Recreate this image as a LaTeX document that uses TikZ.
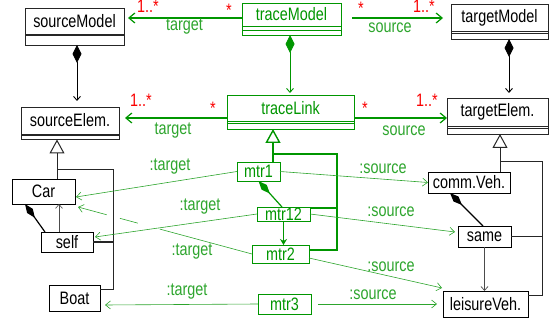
\documentclass[tikz,border=0pt]{standalone}
\usepackage{fontspec}
\setmainfont{Liberation Sans}[FakeStretch=0.8]
\usetikzlibrary{arrows.meta}
\definecolor{tgreen}{RGB}{0,150,0}
\definecolor{lgreen}{RGB}{45,165,45}
\definecolor{mred}{RGB}{250,0,0}
\tikzset{%
  cls/.style={draw=black!85,fill=white,inner sep=0pt,outer sep=0pt},
  tcls/.style={cls,draw=tgreen,text=tgreen,line width=0.8pt},
  obj/.style={draw=black,fill=white,inner sep=0pt,outer sep=0pt},
  tobj/.style={obj,draw=tgreen,text=tgreen,line width=0.7pt},
  role/.style={text=lgreen,inner sep=0pt},
  mult/.style={text=mred,inner sep=0pt,anchor=base},
  assoc/.style={draw=tgreen,line width=1.2pt,-{Straight Barb[length=6pt,width=10pt]}},
  link/.style={draw=lgreen,line width=0.6pt,-{Straight Barb[length=5pt,width=8pt]}},
  compos/.style={draw=black,line width=0.9pt,{Diamond[length=18pt,width=9pt]}-{Straight Barb[length=4pt,width=7pt]}},
  tcompos/.style={compos,draw=tgreen},
  icomp/.style={draw=black,line width=1.2pt,{Diamond[length=17pt,width=7pt]}-},
  ticomp/.style={icomp,draw=tgreen},
  nav/.style={draw=black!70,line width=0.7pt,-{Straight Barb[length=4pt,width=7pt]}},
  tnav/.style={draw=tgreen,line width=1.2pt,-{Stealth[length=6pt,width=7pt]}},
  gen/.style={draw=black!85,line width=1pt,-{Triangle[open,length=14pt,width=15pt,fill=white]}},
  tgen/.style={gen,draw=tgreen},
  tree/.style={draw=black!85,line width=0.8pt},
  ttree/.style={draw=tgreen,line width=1.4pt}
}

\begin{document}
\begin{tikzpicture}[x=1pt,y=-1pt,every node/.append style={font=\fontsize{18}{20}\selectfont}]
  \useasboundingbox (0,0) rectangle (549,320);
  % classes
  \path
    (74.5,21) node[cls,minimum width=99pt,minimum height=26pt] (sm) {sourceModel}
    (sm.south) node[cls,anchor=north,minimum width=99pt,minimum height=1.5pt] (sm-m) {}
    (sm-m.south) node[cls,anchor=north,minimum width=99pt,minimum height=9.5pt] (sm-b) {};
  \path
    (291.5,14.5) node[tcls,minimum width=99pt,minimum height=23pt] (tm) {traceModel}
    (tm.south) node[tcls,anchor=north,minimum width=99pt,minimum height=4pt] (tm-m) {}
    (tm-m.south) node[tcls,anchor=north,minimum width=99pt,minimum height=5pt] (tm-b) {};
  \path
    (499.5,17.5) node[cls,minimum width=97pt,minimum height=27pt] (tgm) {targetModel}
    (tgm.south) node[cls,anchor=north,minimum width=97pt,minimum height=2pt] (tgm-m) {}
    (tgm-m.south) node[cls,anchor=north,minimum width=97pt,minimum height=6pt] (tgm-b) {};
  \path
    (70,120.5) node[cls,minimum width=98pt,minimum height=27pt] (se) {sourceElem.}
    (se.south) node[cls,anchor=north,minimum width=98pt,minimum height=1.5pt] (se-m) {}
    (se-m.south) node[cls,anchor=north,minimum width=98pt,minimum height=4pt] (se-b) {};
  \path
    (290.5,108) node[tcls,minimum width=127pt,minimum height=26pt] (tl) {traceLink}
    (tl.south) node[tcls,anchor=north,minimum width=127pt,minimum height=2pt] (tl-m) {}
    (tl-m.south) node[tcls,anchor=north,minimum width=127pt,minimum height=6pt] (tl-b) {};
  \path
    (497.5,112) node[cls,minimum width=101pt,minimum height=28pt] (te) {targetElem.}
    (te.south) node[cls,anchor=north,minimum width=101pt,minimum height=2pt] (te-m) {}
    (te-m.south) node[cls,anchor=north,minimum width=101pt,minimum height=6pt] (te-b) {};
  % instances
  \path
    (43.5,191.5) node[obj,minimum width=63pt,minimum height=25pt] (car) {Car}
    (67,242) node[obj,minimum width=52pt,minimum height=20pt] (self) {self}
    (74.5,298) node[obj,minimum width=51pt,minimum height=26pt] (boat) {Boat}
    (258.5,171.5) node[tobj,minimum width=43pt,minimum height=19pt] (mtr1) {mtr1}
    (283.5,214) node[tobj,minimum width=53pt,minimum height=14pt] (mtr12) {mtr12}
    (280.5,254) node[tobj,minimum width=57pt,minimum height=18pt] (mtr2) {mtr2}
    (284.5,304) node[tobj,minimum width=53pt,minimum height=20pt] (mtr3) {mtr3}
    (469,182.5) node[obj,minimum width=82pt,minimum height=21pt] (cv) {comm.Veh.}
    (484.5,236.5) node[obj,minimum width=53pt,minimum height=21pt] (same) {same}
    (485.5,304) node[obj,minimum width=85pt,minimum height=26pt] (lv) {leisureVeh.};
  % trace associations
  \draw[assoc,shorten >=4pt] ([yshift=-3.5pt]tm.west) -- ([yshift=-3.5pt]tm.west -| sm.east);
  \draw[assoc,shorten <=11pt,shorten >=8pt] ([yshift=-3.5pt]tm.east) -- ([yshift=-3.5pt]tm.east -| tgm.west);
  \draw[assoc,shorten >=6pt] ([yshift=-10pt]tl.west) -- ([yshift=-10pt]tl.west -| se.east);
  \draw[assoc] ([yshift=-10pt]tl.east) -- ([yshift=-10pt]tl.east -| te.west);
  \node[role] (r1) at (184.5,26.5) {target};
  \node[role] (r2) at (390,28) {source};
  \node[role] (r3) at (173,131) {target};
  \node[role] (r4) at (404,131) {source};
  \node[mult] (m1) at (148,13) {1..*};
  \node[mult] (m2) at (229,17) {*};
  \node[mult] (m3) at (361,15) {*};
  \node[mult] (m4) at (424,13) {1..*};
  \node[mult] (m5) at (141,107) {1..*};
  \node[mult] (m6) at (213,115) {*};
  \node[mult] (m7) at (365,115) {*};
  \node[mult] (m8) at (427,107) {1..*};
  % containment
  \draw[compos,shorten >=6pt] ([xshift=2.5pt]sm-b.south) -- ([xshift=2.5pt]sm-b.south |- se.north);
  \draw[tcompos,shorten >=2pt] ([xshift=-1.5pt]tm-b.south) -- ([xshift=-1.5pt]tm-b.south |- tl.north);
  \draw[compos,shorten >=5pt] ([xshift=9.5pt]tgm-b.south) -- ([xshift=9.5pt]tgm-b.south |- te.north);
  % generalizations
  \coordinate (sg) at (57,169);
  \coordinate (sv) at (113,169);
  \draw[gen] (sg |- car.north) -- (sg |- se-b.south);
  \draw[tree] (sg) -- (sv) |- ([yshift=9pt]boat.east);
  \draw[tree,line width=1.6pt] (self.east) -- (self.east -| sv);
  \coordinate (tg) at (500,161);
  \coordinate (tv) at (542,161);
  \draw[gen] (tg |- cv.north) -- (tg |- te-b.south);
  \draw[tree] (tg) -- (tv) |- ([yshift=9pt]lv.east);
  \draw[tree] (same.east) -- (same.east -| tv);
  \coordinate (tlj) at (273,154);
  \coordinate (tlr) at (337,154);
  \draw[tgen,line width=1.4pt] (tlj |- mtr1.north) -- (tlj |- tl-b.south);
  \draw[ttree] (tlj) -- (tlr) |- ([yshift=4pt]mtr2.east);
  \draw[ttree] ([yshift=6pt]mtr12.east) -- ([yshift=6pt]mtr12.east -| tlr);
  % instance links
  \draw[icomp] ([xshift=-18.5pt]car.south) -- ([xshift=-22pt]self.north);
  \draw[nav,line width=0.6pt] ([xshift=-8pt]self.north) -- ([xshift=-8pt]self.north |- car.south);
  \draw[icomp] ([xshift=-19pt]cv.south) -- ([xshift=-1.5pt]same.north);
  \draw[nav] (same.south) -- (same.south |- lv.north);
  \draw[ticomp] (mtr1.south) -- ([xshift=-1.5pt]mtr12.north);
  \draw[tnav] (mtr12.south) -- (mtr12.south |- mtr2.north);
  \draw[link] (mtr1.west) -- ([xshift=1pt,yshift=-5.5pt]car.east);
  \draw[link] (mtr1.east) -- (cv.west);
  \draw[link] (mtr12.west) -- ([xshift=2pt,yshift=5pt]self.east);
  \draw[link] (mtr12.east) -- ([xshift=-3pt,yshift=4.5pt]same.west);
  \draw[link,dash pattern=on 95.6pt off 22.6pt on 18.7pt off 13.6pt on 80pt] (mtr2.west) -- ([xshift=3pt,yshift=-3pt]car.south east);
  \draw[link] ([yshift=-4pt]mtr2.east) -- ([xshift=-1pt,yshift=3pt]lv.north west);
  \draw[link] (mtr3.west) -- ([xshift=5pt,yshift=-7pt]boat.east);
  \draw[link,shorten <=7pt,shorten >=6pt] (mtr3.east) -- (lv.west);
  \node[role] (r5) at (170,167) {:target};
  \node[role] (r6) at (383,169) {:source};
  \node[role] (r7) at (200,207) {:target};
  \node[role] (r8) at (391,212) {:source};
  \node[role] (r9) at (192,252) {:target};
  \node[role] (r10) at (391,267) {:source};
  \node[role] (r11) at (187,292) {:target};
  \node[role] (r12) at (373,295) {:source};
\end{tikzpicture}
\end{document}
